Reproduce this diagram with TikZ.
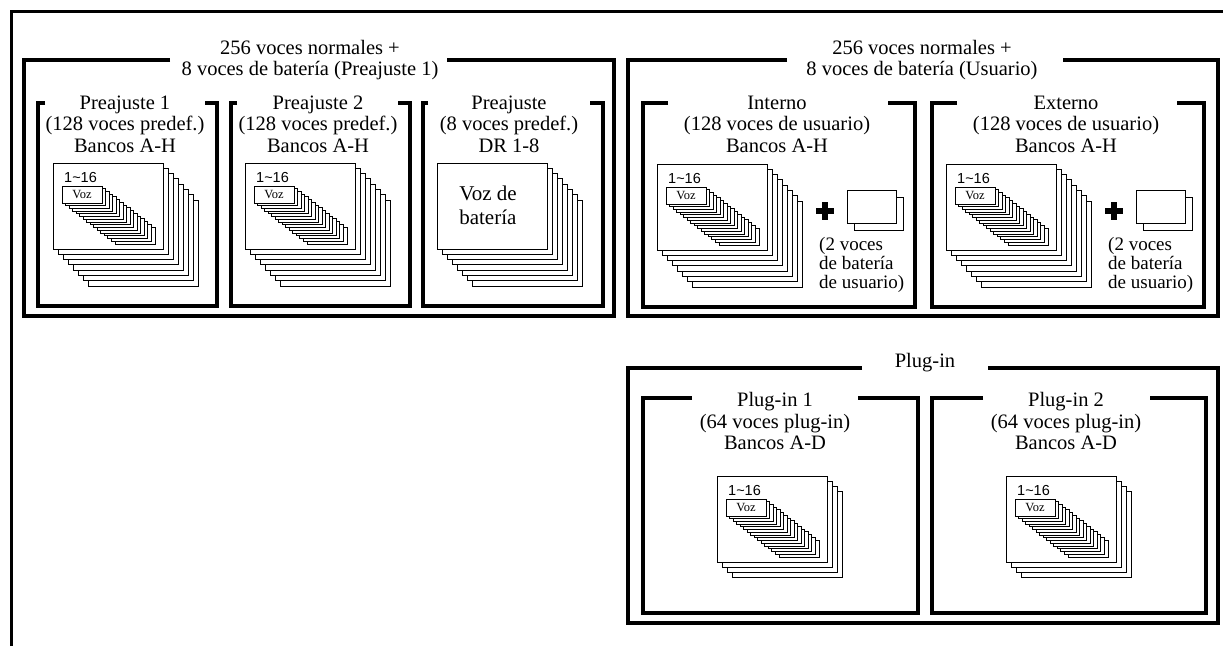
\documentclass[tikz,border=0pt]{standalone}
\usepackage{fontspec}
\setmainfont{Liberation Serif}
\newfontfamily\cardsans{Liberation Sans}
\usepackage{tikz}

% open frame: style, x1, y1, x2, y2, end of left part, start of right part
\newcommand{\openframe}[7]{%
  \draw[#1] (#6,#3) -- (#2,#3) -- (#2,#5) -- (#4,#5) -- (#4,#3) -- (#7,#3);}
% stack of bank cards: top left of front card, cards behind
\newcommand{\bankstack}[3]{%
  \foreach \k in {#3,...,0}
    \draw[card] (#1+5*\k,#2+5.3*\k) rectangle ++(110,86);}
% 16 voices on the front card
\newcommand{\voicestack}[3]{%
  \node[numlabel] (#1-num) at (#2+11,#3+14.5) {1\textasciitilde16};
  \foreach \k in {15,...,0}
    \draw[card] (#2+9+3.53*\k,#3+23+2.73*\k) rectangle ++(40,17);
  \node[voz] (#1-voz) at (#2+29,#3+31.5) {Voz};}

\begin{document}
\begin{tikzpicture}[x=1pt,y=-1pt,
frame/.style={line width=3.5pt},
group/.style={line width=3.3pt},
bank/.style={line width=4pt},
card/.style={draw, fill=white, line width=0.9pt},
plus/.style={line width=5.5pt},
title/.style={align=center, inner sep=0pt, font=\fontsize{20.5}{21.5}\selectfont},
drum/.style={align=left, inner sep=0pt, font=\fontsize{21}{24}\selectfont},
note/.style={align=left, inner sep=0pt, anchor=north west, font=\fontsize{19}{19}\selectfont},
numlabel/.style={anchor=west, inner sep=0pt, font=\cardsans\fontsize{14.5}{15}\selectfont},
voz/.style={inner sep=0pt, font=\fontsize{12.5}{13}\selectfont}
]
\path[use as bounding box] (0,0) rectangle (1223,646);
\draw[frame] (11.5,646) -- (11.5,11.5) -- (1223,11.5);

% preset voices
\openframe{group}{24}{60}{614}{316}{170}{447}
\node[title] (g1-title) at (310,60) {256 voces normales +\\8 voces de batería (Preajuste 1)};

\openframe{bank}{38}{103}{217}{306}{45}{205}
\node[title] (p1-title) at (125,124) {Preajuste 1\\(128 voces predef.)\\Bancos A-H};
\bankstack{53}{163}{7}
\voicestack{p1}{53}{163}

\openframe{bank}{231}{103}{410}{306}{237}{398}
\node[title] (p2-title) at (318,124) {Preajuste 2\\(128 voces predef.)\\Bancos A-H};
\bankstack{245}{163}{7}
\voicestack{p2}{245}{163}

\openframe{bank}{423}{103}{603}{306}{428}{590}
\node[title] (p3-title) at (509,124) {Preajuste\\(8 voces predef.)\\DR 1-8};
\bankstack{437}{163}{7}
\node[drum] (p3-drum) at (488,205) {Voz de\\batería};

% user voices
\openframe{group}{628}{60}{1218}{316}{787}{1063}
\node[title] (g2-title) at (922,60) {256 voces normales +\\8 voces de batería (Usuario)};

\openframe{bank}{643}{103}{915}{307}{668}{888}
\node[title] (int-title) at (777,124) {Interno\\(128 voces de usuario)\\Bancos A-H};
\bankstack{657}{164}{7}
\voicestack{int}{657}{164}
\draw[plus] (816,211) -- (834,211) (825,202) -- (825,220);
\draw[card] (854,197) rectangle ++(49,33);
\draw[card] (847,190) rectangle ++(49,33);
\node[note] (int-note) at (819,237) {(2 voces\\de batería\\de usuario)};

\openframe{bank}{932}{103}{1204}{307}{957}{1177}
\node[title] (ext-title) at (1066,124) {Externo\\(128 voces de usuario)\\Bancos A-H};
\bankstack{946}{164}{7}
\voicestack{ext}{946}{164}
\draw[plus] (1105,211) -- (1123,211) (1114,202) -- (1114,220);
\draw[card] (1143,197) rectangle ++(49,33);
\draw[card] (1136,190) rectangle ++(49,33);
\node[note] (ext-note) at (1108,237) {(2 voces\\de batería\\de usuario)};

% plug-in voices
\openframe{group}{628}{368}{1218}{623}{862}{988}
\node[title] (plug-title) at (925,363) {Plug-in};

\openframe{bank}{643}{398}{918}{613}{692}{858}
\node[title] (pl1-title) at (775,421) {Plug-in 1\\(64 voces plug-in)\\Bancos A-D};
\bankstack{717}{476}{3}
\voicestack{pl1}{717}{476}

\openframe{bank}{932}{398}{1206}{613}{983}{1150}
\node[title] (pl2-title) at (1066,421) {Plug-in 2\\(64 voces plug-in)\\Bancos A-D};
\bankstack{1006}{476}{3}
\voicestack{pl2}{1006}{476}
\end{tikzpicture}
\end{document}
